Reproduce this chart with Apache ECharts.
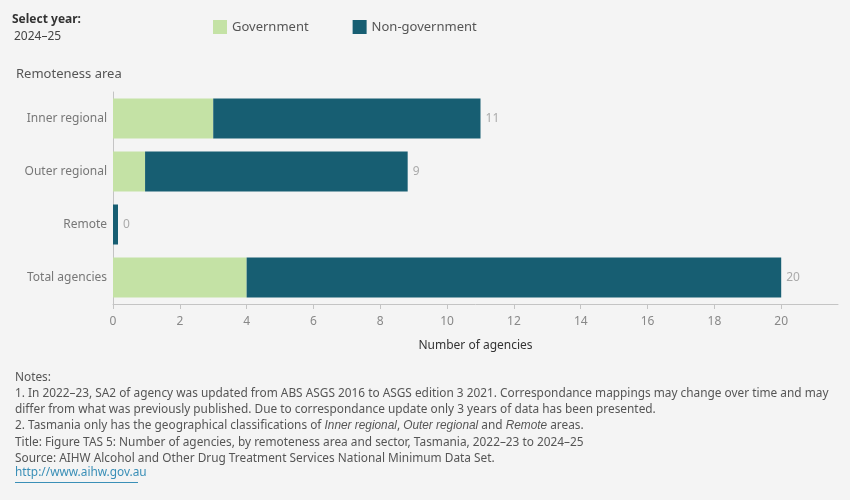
<!DOCTYPE html>
<html>
<head>
<meta charset="utf-8">
<script src="https://cdn.jsdelivr.net/npm/echarts@6/dist/echarts.min.js"></script>
<style>
  html, body { margin: 0; padding: 0; background: #f4f4f4; }
  #chart { width: 850px; height: 500px; }
</style>
</head>
<body>
<div id="chart"></div>
<script>
// remoteness area categories (top to bottom)
var categories = ["Inner regional", "Outer regional", "Remote", "Total agencies"];
// number of agencies, 2024–25
var government = [3, 0.96, 0, 4];
var nonGovernment = [8, 7.86, 0.15, 16];
var xTicks = [0, 2, 4, 6, 8, 10, 12, 14, 16, 18, 20];

var totals = categories.map(function (c, i) {
  return government[i] + nonGovernment[i];
});

var font = "Noto Sans";
var noteColor = "#555";
var noteSize = 11.85;

var chart = echarts.init(document.getElementById("chart"));
chart.setOption({
  backgroundColor: "#f4f4f4",
  textStyle: { fontFamily: font },
  animation: false,
  color: ["#c4e2a5", "#175e72"],
  legend: {
    left: 208,
    top: 15,
    itemWidth: 14,
    itemHeight: 14,
    itemGap: 44,
    icon: "rect",
    textStyle: { color: "#555", fontSize: 13, fontFamily: font },
    data: ["Government", "Non-government"]
  },
  grid: { left: 113, right: 12, top: 92, bottom: 196 },
  xAxis: {
    type: "value",
    min: 0,
    max: 21.7,
    interval: 2,
    name: "Number of agencies",
    nameLocation: "middle",
    nameGap: 36,
    nameTextStyle: { color: "#333", fontSize: 12 },
    splitLine: { show: false },
    axisLine: { show: true, lineStyle: { color: "#c4c4c4" } },
    axisTick: { show: true, length: 5, lineStyle: { color: "#c4c4c4" }, customValues: xTicks },
    axisLabel: { color: "#888", fontSize: 12, margin: 12, customValues: xTicks }
  },
  yAxis: {
    type: "category",
    inverse: true,
    data: categories,
    axisLine: { show: true, lineStyle: { color: "#c4c4c4" } },
    axisTick: { show: false },
    axisLabel: { color: "#777", fontSize: 12, margin: 6 }
  },
  series: [
    {
      name: "Government",
      type: "bar",
      stack: "s",
      barWidth: 40,
      data: government
    },
    {
      name: "Non-government",
      type: "bar",
      stack: "s",
      barWidth: 40,
      data: nonGovernment,
      label: {
        show: true,
        position: "right",
        distance: 5,
        color: "#aaa",
        fontSize: 12,
        formatter: function (p) { return Math.round(totals[p.dataIndex]); }
      }
    }
  ],
  graphic: [
    { type: "text", left: 12, top: 14, style: { text: "Select year:", fill: "#333", font: "bold 12px " + font } },
    { type: "text", left: 14, top: 31, style: { text: "2024–25", fill: "#444", font: "12px " + font } },
    { type: "text", left: 16, top: 68, style: { text: "Remoteness area", fill: "#555", font: "13px " + font } },
    {
      type: "text", left: 15, top: 369,
      style: {
        fill: noteColor,
        font: noteSize + "px " + font,
        lineHeight: 16.3,
        text: [
          "Notes:",
          "1. In 2022–23, SA2 of agency was updated from ABS ASGS 2016 to ASGS edition 3 2021. Correspondance mappings may change over time and may",
          "differ from what was previously published. Due to correspondance update only 3 years of data has been presented.",
          "2. Tasmania only has the geographical classifications of {i|Inner regional}, {i|Outer regional} and {i|Remote} areas.",
          "Title: Figure TAS 5: Number of agencies, by remoteness area and sector, Tasmania, 2022–23 to 2024–25",
          "Source: AIHW Alcohol and Other Drug Treatment Services National Minimum Data Set."
        ].join("\n"),
        rich: { i: { fontStyle: "italic", fontSize: noteSize, fill: noteColor, lineHeight: 16.3 } }
      }
    },
    {
      type: "text", left: 15, top: 467,
      style: { text: "http://www.aihw.gov.au", fill: "#3a8fb7", font: noteSize + "px " + font }
    },
    {
      type: "rect", left: 15, top: 482,
      shape: { width: 123, height: 1 },
      style: { fill: "#3a8fb7" }
    }
  ]
});
</script>
</body>
</html>
